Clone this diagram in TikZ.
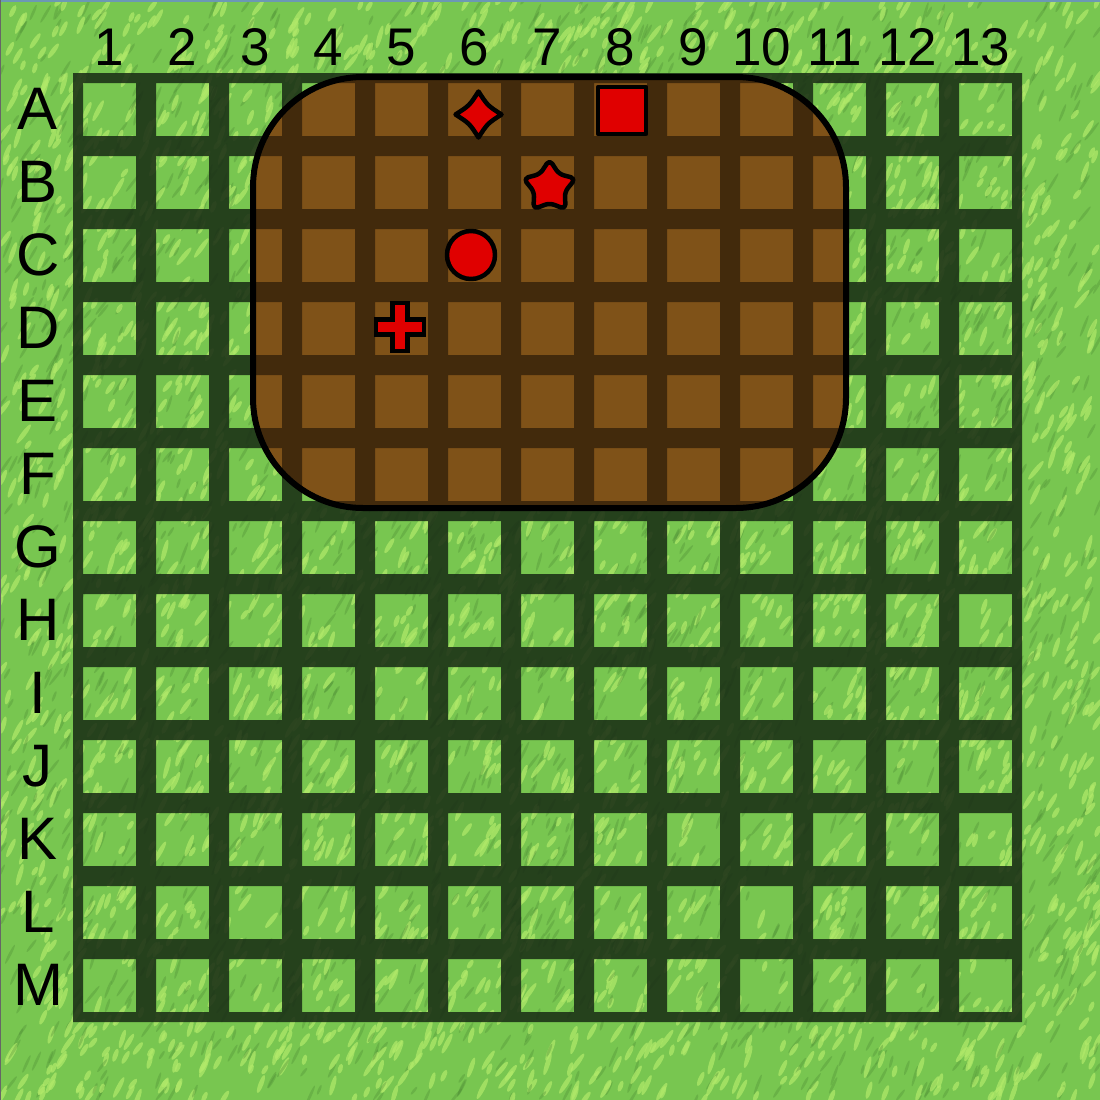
\documentclass[tikz,border=0pt]{standalone}
\usepackage{fontspec}
\setmainfont{Liberation Sans}
\definecolor{grass}{HTML}{78C650}
\definecolor{bladelight}{HTML}{B2EA6A}
\definecolor{bladedark}{HTML}{4E8E36}
\definecolor{gridgreen}{HTML}{172A14}
\definecolor{soil}{HTML}{7F5218}
\definecolor{soildark}{HTML}{422A0C}
\definecolor{redfill}{HTML}{E00000}
\definecolor{edgeblue}{HTML}{6C98B4}
\begin{document}
\begin{tikzpicture}[x=1pt,y=-1pt,
  collbl/.style={font=\fontsize{53}{60}\selectfont, anchor=base, inner sep=0pt},
  rowlbl/.style={font=\fontsize{60}{66}\selectfont, anchor=base, inner sep=0pt},
  redshape/.style={fill=redfill, draw=black, line width=4.5pt, line join=round},
  gridfill/.style={fill=gridgreen, fill opacity=0.85, even odd rule},
  soilgrid/.style={fill=soildark, even odd rule},
  lightblade/.style={fill=bladelight, fill opacity=0.7},
  darkblade/.style={fill=bladedark, fill opacity=0.35},
  plot outline/.style={draw=black, line width=6pt, rounded corners=110pt}]
\useasboundingbox (0,0) rectangle (1100,1100);
% grass background
\fill[grass] (0,0) rectangle (1100,1100);
\pgfmathsetseed{7}
\foreach \k in {1,...,5600}{
  \pgfmathsetmacro{\bx}{rnd*1100}
  \pgfmathsetmacro{\by}{rnd*1100}
  \pgfmathsetmacro{\ba}{50+rnd*25}
  \pgfmathsetmacro{\bl}{5+rnd*7}
  \pgfmathtruncatemacro{\bc}{rnd*5}
  \ifnum\bc<2
    \fill[darkblade, rotate around={\ba:(\bx,\by)}] (\bx,\by) ellipse [x radius=\bl, y radius=1.4];
  \else
    \fill[lightblade, rotate around={\ba:(\bx,\by)}] (\bx,\by) ellipse [x radius=\bl, y radius=2.4];
  \fi
}
\draw[edgeblue, line width=2pt] (0,1) -- (1100,1);
\draw[black!60, line width=1pt] (0.5,0) -- (0.5,1100);
% grid lines over grass
\fill[gridfill] (73,73) rectangle (1022,1022)
  \foreach \i in {0,...,12}{\foreach \j in {0,...,12}{(83+73*\i,83+73*\j) rectangle ++(53,53)}};
% brown plot
\begin{scope}
  \clip[rounded corners=110pt] (253,77) rectangle (846,508);
  \fill[soil] (0,0) rectangle (1100,1100);
  \fill[soilgrid] (73,73) rectangle (1022,1022)
    \foreach \i in {0,...,12}{\foreach \j in {0,...,12}{(83+73*\i,83+73*\j) rectangle ++(53,53)}};
\end{scope}
\draw[plot outline] (253,77) rectangle (846,508);
% labels
\foreach \j in {1,...,9}{
  \node[collbl] (col\j) at ({83+73*(\j-1)+26.5},65) {\j};
}
\foreach \j in {10,...,13}{
  \node[collbl] (col\j) at ({83+73*(\j-1)+21.5},65) {\j};
}
\foreach \l [count=\i from 0] in {A,B,C,D,E,F,G,H,I,J,K,L,M}{
  \node[rowlbl] (row\l) at (38,{83+73*\i+46}) {\l};
}
% red markers
\draw[redshape, shift={(478.5,114.5)}] (0,-23) .. controls (9,-9) .. (23,0)
  .. controls (9,9) .. (0,23) .. controls (-9,9) .. (-23,0)
  .. controls (-9,-9) .. (0,-23) -- cycle;
\draw[redshape] (598,87) rectangle (646,134);
\draw[redshape, rounded corners=5pt, shift={(549.5,187)}]
  (-90:27.5) -- (-54:16) -- (-18:27.5) -- (18:16) -- (54:27.5) -- (90:16)
  -- (126:27.5) -- (162:16) -- (198:27.5) -- (234:16) -- cycle;
\draw[redshape] (471,255) circle [radius=24];
\draw[redshape, line join=miter, shift={(400,327)}]
  (-7.5,-24) -- (7.5,-24) -- (7.5,-7.5) -- (24,-7.5) -- (24,7.5)
  -- (7.5,7.5) -- (7.5,24) -- (-7.5,24) -- (-7.5,7.5) -- (-24,7.5)
  -- (-24,-7.5) -- (-7.5,-7.5) -- cycle;
\end{tikzpicture}
\end{document}
